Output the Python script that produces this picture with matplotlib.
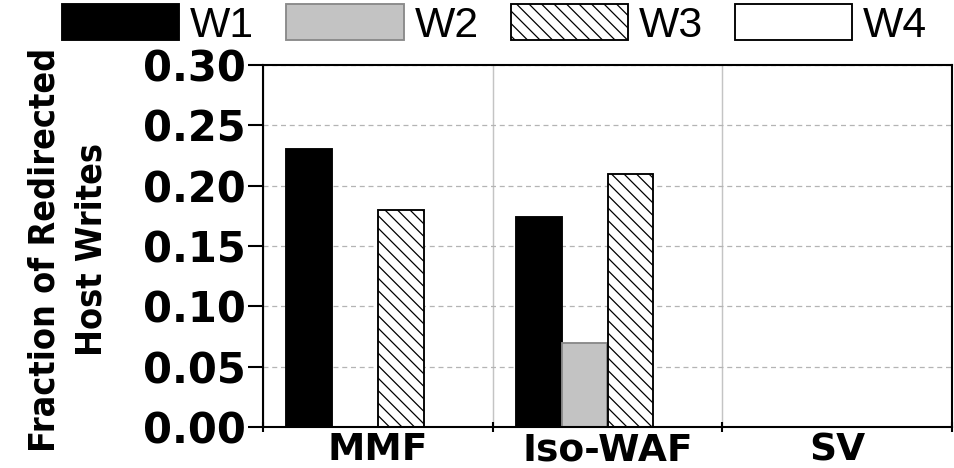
import matplotlib
matplotlib.use("Agg")
import matplotlib.pyplot as plt
from matplotlib import font_manager as fm
import numpy as np

# data
groups = ["MMF", "Iso-WAF", "SV"]
series = ["W1", "W2", "W3", "W4"]
w1 = [0.230, 0.174, 0.0]
w2 = [0.0, 0.070, 0.0]
w3 = [0.180, 0.210, 0.0]
w4 = [0.0, 0.0, 0.0]
yticks = [0.00, 0.05, 0.10, 0.15, 0.20, 0.25, 0.30]

DPI = 150
TICK_FONT = ["DejaVu Sans"]
LEGEND_FONT = ["Liberation Sans", "DejaVu Sans"]

plt.rcParams["hatch.linewidth"] = 0.6


def narrow_bold_font():
    """Pick a condensed bold face if one is installed, else plain bold."""
    best = None
    for f in fm.fontManager.ttflist:
        narrow = f.stretch in ("condensed", "semi-condensed", "extra-condensed") \
            or "Narrow" in f.name or "Condensed" in f.name
        bold = f.weight in (600, 700, "bold", "semibold", "demibold")
        if narrow and bold:
            if best is None or "Liberation" in f.name:
                best = f
    if best is not None:
        return fm.FontProperties(fname=best.fname)
    return fm.FontProperties(family="Liberation Sans", weight="bold")


styles = [
    dict(color="black", edgecolor="black", hatch=None),
    dict(color="#c3c3c3", edgecolor="#8a8a8a", hatch=None),
    dict(color="white", edgecolor="black", hatch="\\\\\\\\"),
    dict(color="white", edgecolor="black", hatch=None),
]

fig = plt.figure(figsize=(955 / DPI, 468 / DPI), dpi=DPI, facecolor="white")
ax = fig.add_axes((263 / 955, 1 - 427 / 468, (952 - 263) / 955, (427 - 65) / 468))

x = np.arange(len(groups))
width = 0.2
offsets = [-0.3, -0.1, 0.1, 0.3]
handles = []
for vals, off, st in zip([w1, w2, w3, w4], offsets, styles):
    bars = ax.bar(x + off, vals, width, color=st["color"],
                  edgecolor=st["edgecolor"], hatch=st["hatch"],
                  linewidth=0.9, zorder=2)
    handles.append(bars)

ax.set_xlim(-0.5, 2.5)
ax.set_ylim(0, 0.30)
ax.set_yticks(yticks)
ax.set_yticklabels([f"{v:.2f}" for v in yticks])

# group separators as major ticks, names as minor tick labels
ax.set_xticks([-0.5, 0.5, 1.5, 2.5])
ax.set_xticklabels([])
ax.set_xticks(x, minor=True)
ax.set_xticklabels(groups, minor=True)

ax.tick_params(axis="y", direction="out", length=7.2, width=1.0, pad=1)
ax.tick_params(axis="x", which="major", direction="inout", length=5, width=1.0)
ax.tick_params(axis="x", which="minor", length=0, pad=2.5)

for lab in ax.get_yticklabels():
    lab.set_fontfamily(TICK_FONT)
    lab.set_fontweight("bold")
    lab.set_fontsize(20)
for lab in ax.get_xticklabels(minor=True):
    lab.set_fontfamily(TICK_FONT)
    lab.set_fontweight("bold")
    lab.set_fontsize(18)

for s in ax.spines.values():
    s.set_linewidth(1.0)
    s.set_color("black")

ax.set_axisbelow(True)
ax.grid(axis="y", linestyle=(0, (4, 3)), color="#b4b4b4", linewidth=0.6)
ax.grid(axis="x", which="major", linestyle="-", color="#c4c4c4", linewidth=0.7)

# y label: fit the long line to ~405 px tall like the reference
ylab_fp = narrow_bold_font()
ylab_fp.set_size(22)
ylab = fig.text(68 / 955, 1 - 250 / 468, "Fraction of Redirected\nHost Writes",
                rotation=90, ha="center", va="center", multialignment="center",
                fontproperties=ylab_fp, linespacing=1.5)
fig.canvas.draw()
h = ylab.get_window_extent().height
ylab_fp.set_size(22 * 405 / h)
ylab.set_fontproperties(ylab_fp)

fig.legend(handles, series, loc="upper left",
           bbox_to_anchor=(62 / 955, 1 - 4 / 468), ncol=4, frameon=False,
           prop={"family": LEGEND_FONT, "size": 20.5},
           handlelength=2.75, handleheight=0.93, handletextpad=0.25,
           columnspacing=0.75, borderpad=0, borderaxespad=0)

fig.savefig("out.png", dpi=DPI, facecolor="white")
